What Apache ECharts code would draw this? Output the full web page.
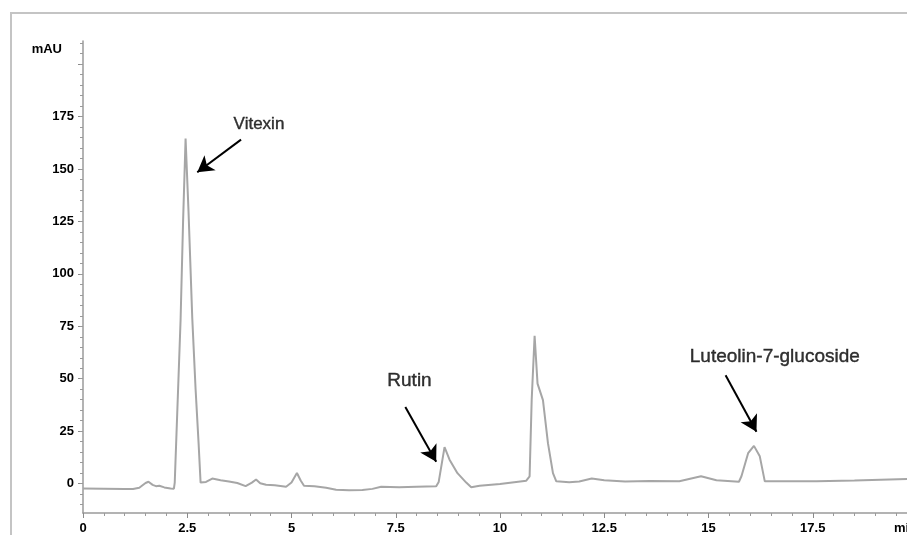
<!DOCTYPE html>
<html>
<head>
<meta charset="utf-8">
<script src="https://cdn.jsdelivr.net/npm/echarts@6/dist/echarts.min.js"></script>
<style>
html,body{margin:0;padding:0;background:#fff;overflow:hidden;}
#chart{width:907px;height:535px;}
</style>
</head>
<body>
<div id="chart"></div>
<script>
// Retention time (min) and absorbance (mAU)
const timeMin = [0, 0.5, 1.0, 1.2, 1.35, 1.5, 1.57, 1.67, 1.75, 1.83, 1.95, 2.1, 2.18, 2.20, 2.34, 2.40, 2.46, 2.53, 2.62, 2.70, 2.77, 2.82, 2.95, 3.1, 3.3, 3.5, 3.7, 3.9, 4.05, 4.15, 4.25, 4.39, 4.6, 4.87, 5.0, 5.13, 5.22, 5.3, 5.55, 5.83, 6.07, 6.38, 6.7, 6.94, 7.15, 7.58, 8.0, 8.47, 8.53, 8.67, 8.79, 8.98, 9.19, 9.31, 9.51, 10.0, 10.63, 10.71, 10.76, 10.83, 10.9, 11.03, 11.15, 11.27, 11.35, 11.66, 11.9, 12.2, 12.5, 13.0, 13.59, 14.3, 14.82, 15.19, 15.73, 15.79, 15.95, 16.09, 16.23, 16.35, 17.59, 18.5, 19.76, 20];
const signalMAU = [-2.3, -2.4, -2.5, -2.6, -2.0, 0.3, 0.9, -0.6, -1.2, -1.0, -1.8, -2.3, -2.4, 0.5, 78, 125, 164.5, 130, 79, 45, 20, 0.5, 0.8, 2.4, 1.6, 1.0, 0.3, -1.2, 0.5, 2.0, 0.2, -0.5, -0.8, -1.5, 0.5, 5.1, 1.5, -1.0, -1.3, -2.0, -2.9, -3.2, -3.0, -2.5, -1.5, -1.7, -1.5, -1.3, 0.8, 17.4, 11.4, 5.0, 0.5, -1.7, -1.0, -0.2, 1.4, 3.5, 40, 70.5, 47.7, 39.8, 19.3, 5.0, 1.1, 0.7, 1.0, 2.4, 1.6, 1.0, 1.2, 1.1, 3.5, 1.6, 0.9, 3.5, 14.5, 18.0, 13.0, 1.1, 1.1, 1.5, 2.2, 2.2];

// Tick labels
const yLabelValues = [0, 25, 50, 75, 100, 125, 150, 175];
const yMajorTicks = [0, 25, 50, 75, 100, 125, 150, 175, 200];
const yMinorTicks = [];
for (let v = -10; v <= 210; v += 5) yMinorTicks.push(v);

// Peak annotations: label name, label anchor, arrow start, arrow tip
const peakNames = ['Vitexin', 'Rutin', 'Luteolin-7-glucoside'];
const labelAt = [[4.22, 171.2], [7.83, 48.8], [16.59, 60.7]];
const arrowFrom = [[3.79, 164], [7.73, 36.5], [15.41, 51.7]];
const arrowTo = [[2.74, 148.4], [8.47, 10.4], [16.15, 24.7]];
const labelSizes = [17, 19, 19];

const chart = echarts.init(document.getElementById('chart'), null, {renderer: 'canvas'});
const FONT = 'Liberation Sans, Arial, sans-serif';

chart.setOption({
  animation: false,
  backgroundColor: '#ffffff',
  grid: {left: 83, top: 41, width: 834, bottom: 22, containLabel: false, outerBoundsMode: 'none'},
  xAxis: {
    type: 'value', min: 0, max: 20, interval: 2.5,
    axisLine: {show: true, onZero: false, lineStyle: {color: '#9a9a9a', width: 1.5}},
    axisTick: {show: true, length: 5, lineStyle: {color: '#8a8a8a'}},
    minorTick: {show: true, splitNumber: 5, length: 3, lineStyle: {color: '#9a9a9a'}},
    splitLine: {show: false},
    axisLabel: {
      margin: 9, color: '#000', fontSize: 13, fontWeight: 'bold', fontFamily: FONT,
      alignMaxLabel: 'right',
      formatter: v => (v === 20 ? 'min' : String(v))
    }
  },
  yAxis: [{
    type: 'value', min: -14, max: 211, position: 'left',
    name: 'mAU', nameLocation: 'end', nameGap: -8,
    nameTextStyle: {align: 'right', verticalAlign: 'middle', padding: [0, 21, 0, 0], color: '#000', fontSize: 13, fontWeight: 'bold', fontFamily: FONT},
    axisLine: {show: true, onZero: false, lineStyle: {color: '#9a9a9a', width: 1.5}},
    axisTick: {show: true, length: 5, customValues: yMajorTicks, lineStyle: {color: '#8a8a8a'}},
    axisLabel: {show: true, margin: 9, customValues: yLabelValues, color: '#000', fontSize: 13, fontWeight: 'bold', fontFamily: FONT},
    splitLine: {show: false}
  }, {
    type: 'value', min: -14, max: 211, position: 'left', offset: 0,
    axisLine: {show: false, onZero: false},
    axisTick: {show: true, length: 3, customValues: yMinorTicks, lineStyle: {color: '#9a9a9a'}},
    axisLabel: {show: false},
    splitLine: {show: false}
  }],
  graphic: [{
    type: 'rect', silent: true, z: -1,
    shape: {x: 11, y: 13, width: 1000, height: 600},
    style: {fill: 'none', stroke: '#c4c4c4', lineWidth: 2}
  }],
  series: [{
    type: 'line', yAxisIndex: 0,
    data: timeMin.map((t, i) => [t, signalMAU[i]]),
    symbol: 'none', smooth: false,
    lineStyle: {color: '#a6a6a6', width: 2},
    silent: true,
    markLine: {
      silent: true, symbol: ['none', 'arrow'], symbolSize: [14, 16],
      lineStyle: {color: '#000', width: 2, type: 'solid'},
      label: {show: false},
      data: arrowFrom.map((p, i) => [{coord: p}, {coord: arrowTo[i]}])
    }
  }, {
    type: 'scatter', yAxisIndex: 0, silent: true,
    symbolSize: 1, itemStyle: {color: 'rgba(0,0,0,0)'},
    data: peakNames.map((n, i) => ({
      name: n, value: labelAt[i],
      label: {fontSize: labelSizes[i], color: '#000'}
    })),
    label: {show: true, position: 'inside', formatter: '{b}', color: '#000', fontFamily: FONT, textBorderColor: '#000', textBorderWidth: 0.4}
  }]
});
</script>
</body>
</html>
